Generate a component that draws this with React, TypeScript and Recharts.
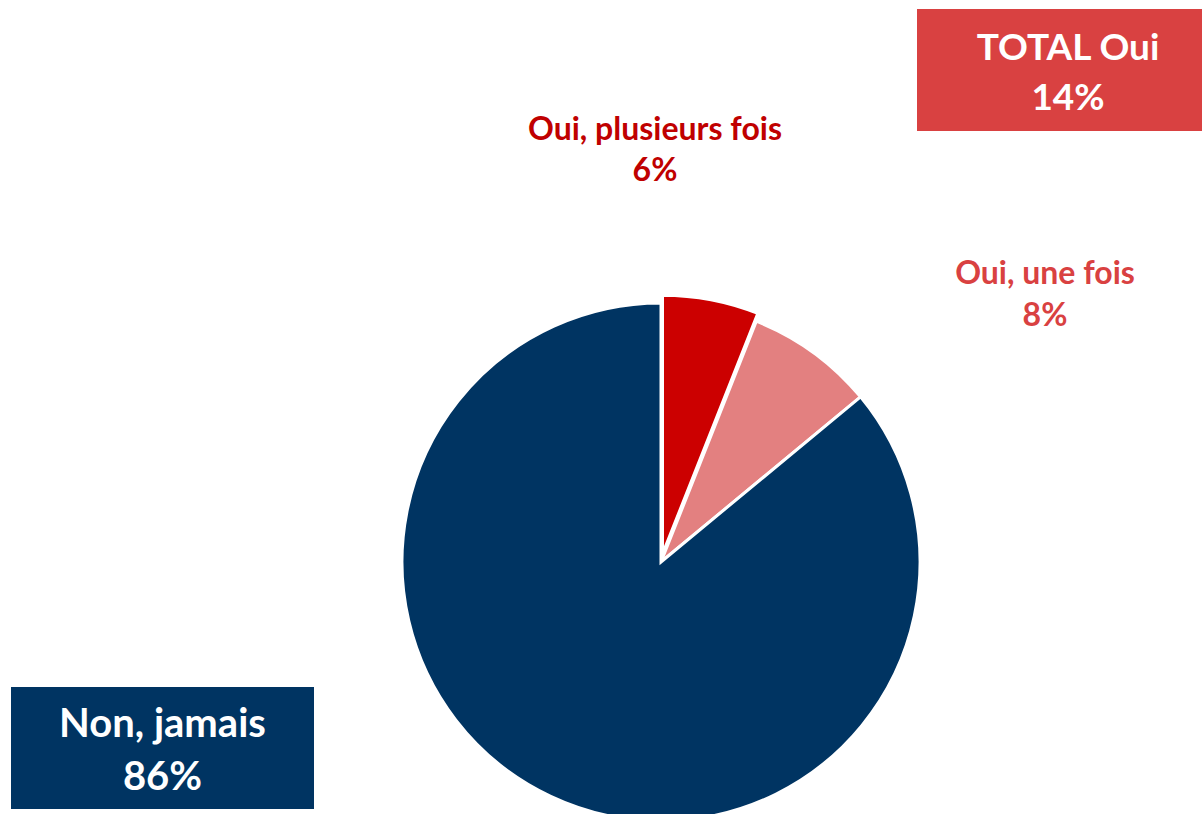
import { PieChart, Pie, Cell } from "recharts";

const categories = ["Oui, plusieurs fois", "Oui, une fois", "Non, jamais"];
const shares = [6, 8, 86];
const sliceColors = ["#CC0000", "#E38080", "#003462"];

const totalLabel = "TOTAL Oui";
const totalValue = 14;

const data = categories.map((name, i) => ({ name, value: shares[i] }));

const FONT = "Lato, 'Open Sans', sans-serif";

export default function App() {
  const cx = 661;
  const cy = 562;
  const r = 259;
  // first slice is pulled out a little along its mid angle
  const mid = ((shares[0] / 100) * 360) / 2;
  const explode = 8;
  const ex = explode * Math.sin((mid * Math.PI) / 180);
  const ey = -explode * Math.cos((mid * Math.PI) / 180);

  const textStyle = (color: string, left: number, top: number, w: number, size: number, lh: number) => ({
    position: "absolute" as const,
    left,
    top,
    width: w,
    textAlign: "center" as const,
    color,
    fontFamily: FONT,
    fontWeight: 700,
    fontSize: size,
    lineHeight: `${lh}px`,
  });

  return (
    <div style={{ position: "absolute", left: 0, top: 0, width: 1202, height: 814, background: "#fff", overflow: "hidden" }}>
      <PieChart width={1202} height={814} margin={{ top: 0, right: 0, bottom: 0, left: 0 }}>
        <Pie
          data={data}
          dataKey="value"
          cx={cx}
          cy={cy}
          outerRadius={r}
          startAngle={90}
          endAngle={-270}
          isAnimationActive={false}
          stroke="#fff"
          strokeWidth={3}
        >
          {data.map((d, i) => (
            <Cell key={d.name} fill={i === 0 ? "transparent" : sliceColors[i]} stroke={i === 0 ? "none" : "#fff"} />
          ))}
        </Pie>
        <Pie
          data={data}
          dataKey="value"
          cx={cx + ex}
          cy={cy + ey}
          outerRadius={r}
          startAngle={90}
          endAngle={-270}
          isAnimationActive={false}
          stroke="#fff"
          strokeWidth={3}
        >
          {data.map((d, i) => (
            <Cell key={d.name} fill={i === 0 ? sliceColors[0] : "transparent"} stroke={i === 0 ? "#fff" : "none"} />
          ))}
        </Pie>
      </PieChart>

      <div style={textStyle("#C00000", 455, 107, 400, 32, 41)}>
        {categories[0]}
        <br />
        {shares[0]}%
      </div>
      <div style={textStyle("#D94141", 895, 251, 300, 32, 42)}>
        {categories[1]}
        <br />
        {shares[1]}%
      </div>

      <div style={{ position: "absolute", left: 917, top: 9, width: 300, height: 122, background: "#D94141" }} />
      <div style={textStyle("#fff", 918, 21, 300, 37, 50)}>
        {totalLabel}
        <br />
        {totalValue}%
      </div>

      <div style={{ position: "absolute", left: 11, top: 687, width: 303, height: 122, background: "#003462" }} />
      <div style={textStyle("#fff", 11, 696, 303, 40, 53)}>
        {categories[2]}
        <br />
        {shares[2]}%
      </div>
    </div>
  );
}
